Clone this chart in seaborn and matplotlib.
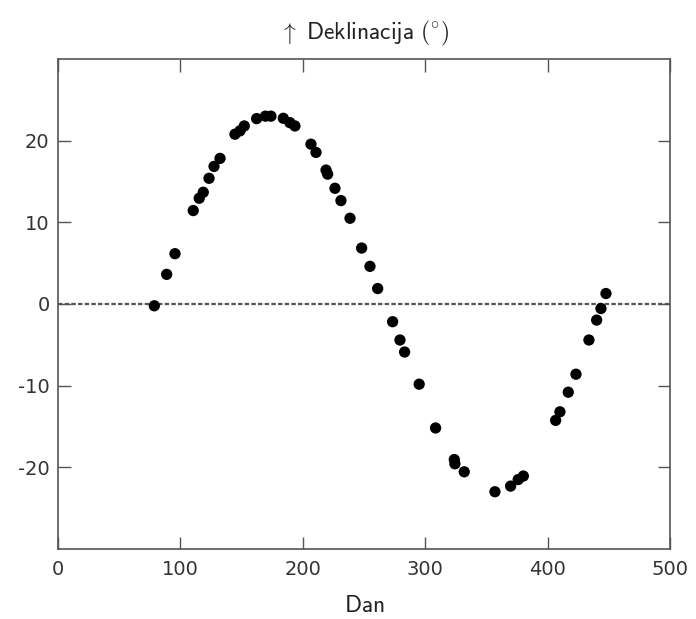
import matplotlib
matplotlib.use("Agg")
import matplotlib.pyplot as plt
import seaborn as sns
import pandas as pd

days = [78.7, 88.8, 95.6, 110.5, 115.4, 118.7, 123.4, 127.5, 132.4,
        144.6, 148.7, 152.2, 162.3, 169.5, 174.0, 184.1, 189.5, 193.6,
        206.7, 210.8, 219.0, 220.3, 226.3, 231.2, 238.6, 248.1, 254.9,
        261.2, 273.4, 279.4, 283.2, 295.1, 308.5, 323.8, 324.3, 331.9,
        357.0, 369.8, 376.0, 380.2, 406.6, 410.1, 416.9, 423.2, 433.8,
        440.1, 443.6, 447.7]
declination = [-0.22, 3.63, 6.16, 11.44, 12.95, 13.68, 15.39, 16.85, 17.83,
               20.79, 21.2, 21.8, 22.7, 23.0, 23.0, 22.74, 22.2, 21.8,
               19.57, 18.56, 16.4, 15.9, 14.17, 12.66, 10.5, 6.85, 4.61,
               1.89, -2.17, -4.41, -5.88, -9.82, -15.18, -19.05, -19.57, -20.55,
               -22.99, -22.3, -21.5, -21.07, -14.25, -13.2, -10.8, -8.6, -4.41,
               -1.97, -0.55, 1.28]
x_ticks = [0, 100, 200, 300, 400, 500]
y_ticks = [-20, -10, 0, 10, 20]

df = pd.DataFrame({"Dan": days, "Deklinacija": declination})

sns.set_theme(style="white")
plt.rcParams["font.family"] = ["DejaVu Sans"]
plt.rcParams["mathtext.fontset"] = "cm"
plt.rcParams["axes.unicode_minus"] = False

fig = plt.figure(figsize=(6.96, 6.19), dpi=100)
ax = fig.add_axes([0.0833, 0.1131, 0.8793, 0.7916])

ax.axhline(0, color="#555555", lw=1.6, ls=(0, (2, 1)), zorder=1)
sns.scatterplot(data=df, x="Dan", y="Deklinacija", ax=ax, color="black",
                s=66, edgecolor="none", zorder=3, legend=False)

ax.set_xlim(0, 500)
ax.set_ylim(-30, 30)
ax.set_xticks(x_ticks)
ax.set_yticks(y_ticks)
ax.tick_params(direction="in", length=9, width=1, color="#555555",
               top=True, right=True, bottom=True, left=True,
               labelsize=14, labelcolor="#333333", pad=6)
ax.tick_params(axis="x", pad=8)
for sp in ax.spines.values():
    sp.set_color("#555555")
    sp.set_linewidth(1.2)

ax.set_xlabel(r"$\mathsf{Dan}$", fontsize=17, color="#222222", labelpad=10)
ax.set_ylabel("")
ax.set_title(r"$\uparrow\ \mathsf{Deklinacija\ (^{\circ})}$", fontsize=17,
             color="#222222", pad=14)

fig.savefig("out.png", dpi=100)
